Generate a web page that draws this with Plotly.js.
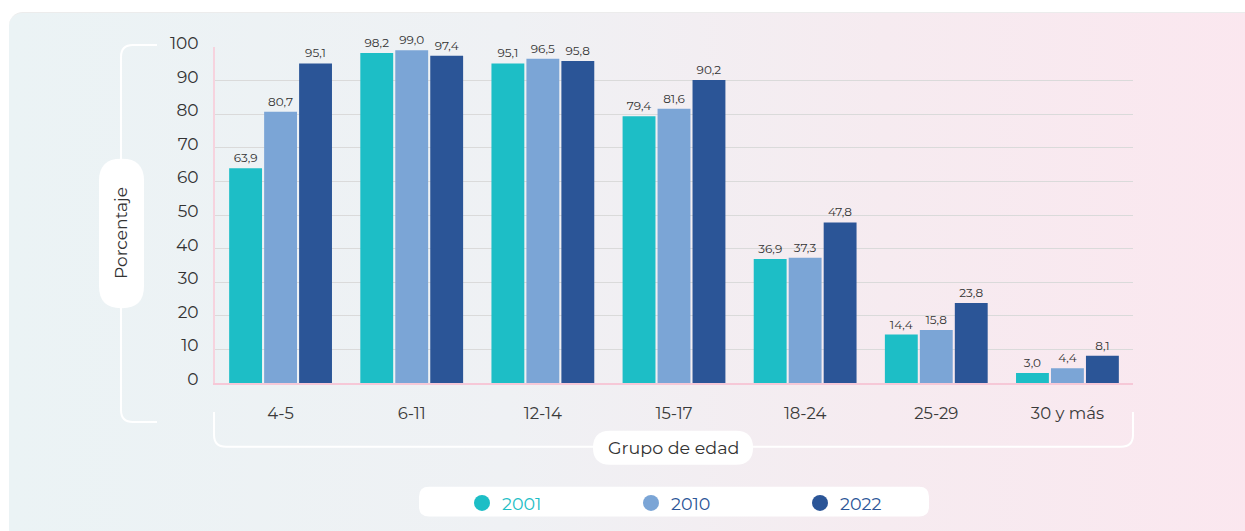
<!DOCTYPE html>
<html>
<head>
<meta charset="utf-8">
<script src="https://cdn.plot.ly/plotly-3.0.1.min.js"></script>
<style>
  html, body { margin:0; padding:0; background:#ffffff; width:1245px; height:531px; overflow:hidden; }
  #bg { position:absolute; left:9px; top:12px; width:1250px; height:530px; border-radius:14px;
        background: linear-gradient(90deg, #ebf3f5 0%, #eff1f4 40%, #f6ebf0 70%, #fbe7ef 100%);
        border-top:1px solid #ececec; }
  #chart { position:absolute; left:0; top:0; width:1245px; height:531px; }
</style>
</head>
<body>
<div id="bg"></div>
<div id="chart"></div>
<script>
const categories = ['4-5', '6-11', '12-14', '15-17', '18-24', '25-29', '30 y más'];
const values2001 = [63.9, 98.2, 95.1, 79.4, 36.9, 14.4, 3.0];
const values2010 = [80.7, 99.0, 96.5, 81.6, 37.3, 15.8, 4.4];
const values2022 = [95.1, 97.4, 95.8, 90.2, 47.8, 23.8, 8.1];
const seriesNames = ['2001', '2010', '2022'];
const yTickValues = [0, 10, 20, 30, 40, 50, 60, 70, 80, 90, 100];
const yAxisTitle = 'Porcentaje';
const xAxisTitle = 'Grupo de edad';

const seriesValues = [values2001, values2010, values2022];
const colors = ['#1dbec6', '#7ba5d6', '#2b5597'];
const legendTextColors = ['#1dbec6', '#2b5597', '#2b5597'];
const FONT = 'Montserrat, "Open Sans", sans-serif';

// pixel -> paper helpers (plot area 215..1133 x 47..384)
const L = 215, R = 1133, T = 47, B = 384;
const px = x => (x - L) / (R - L);
const py = y => (B - y) / (B - T);
const P = (x, y) => px(x) + ',' + py(y);

function roundedRect(x0, y0, x1, y1, r) {
  return 'M' + P(x0 + r, y0) + ' L' + P(x1 - r, y0) + ' Q' + P(x1, y0) + ' ' + P(x1, y0 + r) +
         ' L' + P(x1, y1 - r) + ' Q' + P(x1, y1) + ' ' + P(x1 - r, y1) +
         ' L' + P(x0 + r, y1) + ' Q' + P(x0, y1) + ' ' + P(x0, y1 - r) +
         ' L' + P(x0, y0 + r) + ' Q' + P(x0, y0) + ' ' + P(x0 + r, y0) + ' Z';
}

const traces = [];
seriesNames.forEach((name, i) => {
  traces.push({
    type: 'bar', x: categories, y: seriesValues[i], name: name, showlegend: false,
    marker: { color: colors[i] },
    text: seriesValues[i], texttemplate: '%{y:.1f}', textposition: 'outside',
    textfont: { family: FONT, size: 12, color: '#333333' },
    cliponaxis: false, hoverinfo: 'x+y'
  });
});
seriesNames.forEach((name, i) => {
  traces.push({
    type: 'scatter', mode: 'markers', x: [null], y: [null],
    name: '<span style="color:' + legendTextColors[i] + '">' + name + '</span>',
    marker: { color: colors[i], size: 18, symbol: 'circle' }, showlegend: true
  });
});

const lineStyle = { color: '#ffffff', width: 2 };
const shapes = [
  { type: 'path', xref: 'paper', yref: 'paper', layer: 'above', line: lineStyle, fillcolor: 'rgba(0,0,0,0)',
    path: 'M' + P(157, 45) + ' L' + P(133, 45) + ' Q' + P(121, 45) + ' ' + P(121, 57) +
          ' L' + P(121, 411) + ' Q' + P(121, 423) + ' ' + P(133, 423) + ' L' + P(157, 423) },
  { type: 'path', xref: 'paper', yref: 'paper', layer: 'above', line: lineStyle, fillcolor: 'rgba(0,0,0,0)',
    path: 'M' + P(214, 413) + ' L' + P(214, 436) + ' Q' + P(214, 448) + ' ' + P(226, 448) +
          ' L' + P(1121, 448) + ' Q' + P(1133, 448) + ' ' + P(1133, 436) + ' L' + P(1133, 413) },
  { type: 'path', xref: 'paper', yref: 'paper', layer: 'above', line: { width: 0 }, fillcolor: '#ffffff',
    path: roundedRect(99, 159, 144, 309, 22) },
  { type: 'path', xref: 'paper', yref: 'paper', layer: 'above', line: { width: 0 }, fillcolor: '#ffffff',
    path: roundedRect(593, 432, 753, 466, 17) },
  { type: 'path', xref: 'paper', yref: 'paper', layer: 'above', line: { width: 0 }, fillcolor: '#ffffff',
    path: roundedRect(419, 488, 929, 518, 10) }
];

const layout = {
  width: 1245, height: 531,
  margin: { l: L, r: 1245 - R, t: T, b: 531 - B, pad: 0 },
  paper_bgcolor: 'rgba(0,0,0,0)', plot_bgcolor: 'rgba(0,0,0,0)',
  separators: ',.',
  font: { family: FONT, color: '#333333' },
  barmode: 'group', bargap: 0.2, bargroupgap: 0.06,
  xaxis: {
    type: 'category', showgrid: false, zeroline: false,
    showline: true, linecolor: '#f6c8d7', linewidth: 2,
    ticks: '', ticklabelstandoff: 14,
    tickfont: { family: FONT, size: 16.5, color: '#3a3a3a' }, fixedrange: true
  },
  yaxis: {
    range: [0, 100], tickvals: yTickValues, ticktext: yTickValues.map(String),
    showgrid: true, gridcolor: '#dadada', gridwidth: 1,
    zeroline: false, showline: true, linecolor: '#f6d3de', linewidth: 2,
    ticks: '', ticklabelstandoff: 11, ticklabelshift: -4,
    tickfont: { family: FONT, size: 17, color: '#333333' }, fixedrange: true
  },
  showlegend: true,
  legend: {
    orientation: 'h', x: px(462), xanchor: 'left', y: py(503), yanchor: 'middle',
    bgcolor: 'rgba(0,0,0,0)', borderwidth: 0,
    entrywidth: 124, entrywidthmode: 'pixels', itemclick: false, itemdoubleclick: false,
    font: { family: FONT, size: 17.5, color: '#2b5597' }
  },
  shapes: shapes,
  annotations: [
    { text: yAxisTitle, xref: 'paper', yref: 'paper', x: px(121.5), y: py(234), textangle: -90,
      showarrow: false, xanchor: 'center', yanchor: 'middle',
      font: { family: FONT, size: 17, color: '#333333' } },
    { text: xAxisTitle, xref: 'paper', yref: 'paper', x: px(673), y: py(449),
      showarrow: false, xanchor: 'center', yanchor: 'middle',
      font: { family: FONT, size: 17.5, color: '#333333' } }
  ]
};

Plotly.newPlot('chart', traces, layout, { displayModeBar: false, staticPlot: true });
</script>
</body>
</html>
